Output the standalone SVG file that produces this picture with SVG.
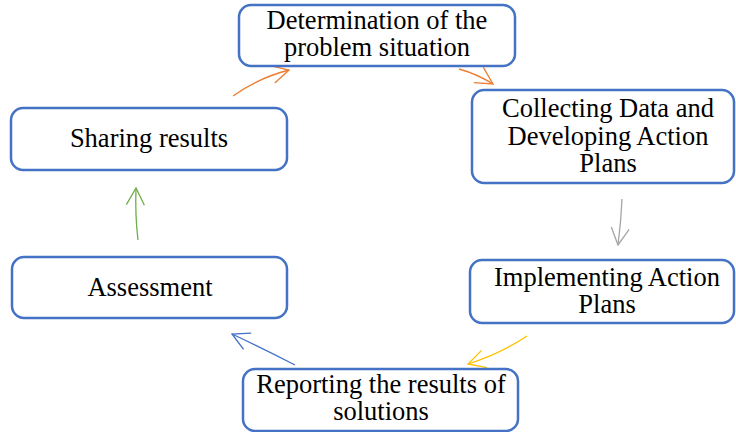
<svg xmlns="http://www.w3.org/2000/svg" width="736" height="432" viewBox="0 0 736 432">
<style>
.box{fill:#fff;stroke:#4472C4;stroke-width:2.5}
.t{font-family:"Liberation Serif","Times New Roman",serif;font-size:26.5px;fill:#000;text-anchor:middle}
.c{fill:none;stroke-width:1.3}
</style>
<defs>
<marker id="mo" viewBox="0 0 20 20" refX="19" refY="10" markerWidth="20" markerHeight="20" markerUnits="userSpaceOnUse" orient="auto"><path d="M2,1 L19,10 L2,19" fill="none" stroke="#ED7D31" stroke-width="1.3"/></marker>
<marker id="mg" viewBox="0 0 20 20" refX="19" refY="10" markerWidth="20" markerHeight="20" markerUnits="userSpaceOnUse" orient="auto"><path d="M2,1 L19,10 L2,19" fill="none" stroke="#A5A5A5" stroke-width="1.3"/></marker>
<marker id="my" viewBox="0 0 20 20" refX="19" refY="10" markerWidth="20" markerHeight="20" markerUnits="userSpaceOnUse" orient="auto"><path d="M2,1 L19,10 L2,19" fill="none" stroke="#FFC000" stroke-width="1.3"/></marker>
<marker id="mb" viewBox="0 0 20 20" refX="19" refY="10" markerWidth="20" markerHeight="20" markerUnits="userSpaceOnUse" orient="auto"><path d="M2,1 L19,10 L2,19" fill="none" stroke="#4472C4" stroke-width="1.3"/></marker>
<marker id="mgr" viewBox="0 0 20 20" refX="19" refY="10" markerWidth="20" markerHeight="20" markerUnits="userSpaceOnUse" orient="auto"><path d="M2,1 L19,10 L2,19" fill="none" stroke="#70AD47" stroke-width="1.3"/></marker>
</defs>
<g id="connectors">
<path class="c" stroke="#ED7D31" d="M233,96 Q258,78 289,70" marker-end="url(#mo)"/>
<path class="c" stroke="#ED7D31" d="M459,69 Q477,74 493,84" marker-end="url(#mo)"/>
<path class="c" stroke="#A5A5A5" d="M622,199 Q621,222 618,245" marker-end="url(#mg)"/>
<path class="c" stroke="#FFC000" d="M527,336 Q500,354 468,364" marker-end="url(#my)"/>
<path class="c" stroke="#4472C4" d="M295,365 Q262,348 232,334" marker-end="url(#mb)"/>
<path class="c" stroke="#70AD47" d="M138,240 Q135,215 136,188" marker-end="url(#mgr)"/>
</g>
<g id="n1"><rect class="box" x="239" y="5" width="276" height="61" rx="12"/><text class="t" x="377" y="29">Determination of the</text><text class="t" x="377" y="56">problem situation</text></g>
<g id="n2"><rect class="box" x="472" y="90" width="262" height="93" rx="12"/><text class="t" x="608" y="117">Collecting Data and</text><text class="t" x="608" y="145">Developing Action</text><text class="t" x="608" y="172">Plans</text></g>
<g id="n3"><rect class="box" x="470" y="260" width="264" height="63" rx="12"/><text class="t" x="607" y="286">Implementing Action</text><text class="t" x="607" y="313">Plans</text></g>
<g id="n4"><rect class="box" x="243" y="369" width="275" height="62" rx="12"/><text class="t" x="381" y="393">Reporting the results of</text><text class="t" x="381" y="420">solutions</text></g>
<g id="n5"><rect class="box" x="12" y="257" width="275" height="61" rx="12"/><text class="t" x="150" y="296">Assessment</text></g>
<g id="n6"><rect class="box" x="11" y="108" width="276" height="62" rx="12"/><text class="t" x="149" y="147">Sharing results</text></g>
</svg>
